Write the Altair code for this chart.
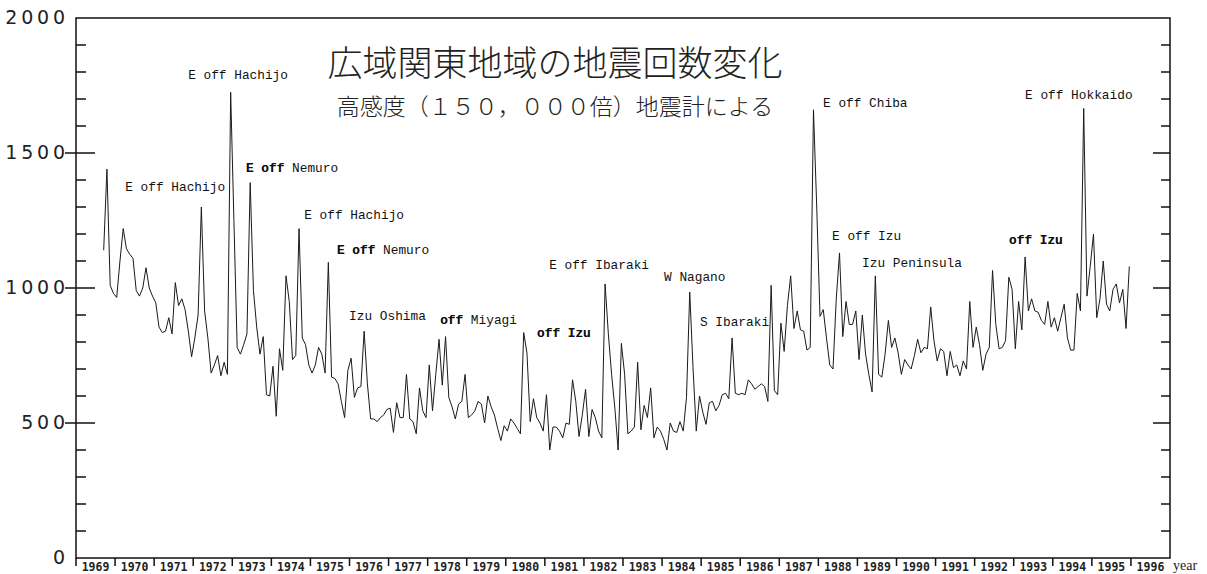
import altair as alt
import pandas as pd

# Monthly earthquake counts (Sep 1969 - Dec 1995)
counts_1969 = [1140, 1440, 1010, 980]  # Sep-Dec
counts_1970 = [965, 1100, 1220, 1145, 1125, 1110, 990, 970, 1000, 1075, 1000, 970]
counts_1971 = [945, 855, 835, 840, 890, 830, 1020, 935, 960, 920, 840, 745]
counts_1972 = [815, 900, 1300, 915, 815, 685, 715, 750, 675, 725, 680, 1725]
counts_1973 = [1250, 780, 755, 790, 830, 1390, 990, 855, 755, 820, 605, 600]
counts_1974 = [710, 525, 775, 695, 1045, 950, 735, 750, 1220, 815, 790, 715]
counts_1975 = [685, 715, 780, 755, 685, 1095, 670, 665, 645, 580, 520, 695]
counts_1976 = [740, 595, 630, 635, 840, 645, 515, 515, 505, 520, 530, 550]
counts_1977 = [555, 465, 575, 520, 520, 680, 515, 505, 460, 630, 545, 520]
counts_1978 = [715, 545, 680, 810, 640, 820, 595, 560, 515, 570, 580, 680]
counts_1979 = [520, 530, 545, 580, 570, 500, 600, 560, 530, 480, 435, 490]
counts_1980 = [470, 515, 500, 480, 460, 835, 760, 505, 590, 520, 500, 470]
counts_1981 = [605, 400, 485, 485, 470, 445, 500, 495, 660, 580, 450, 530]
counts_1982 = [625, 450, 550, 520, 470, 445, 1015, 830, 680, 555, 400, 795]
counts_1983 = [680, 460, 470, 485, 725, 475, 565, 520, 630, 445, 485, 470]
counts_1984 = [440, 400, 500, 470, 465, 505, 470, 595, 985, 705, 470, 600]
counts_1985 = [540, 495, 575, 580, 545, 565, 605, 610, 590, 815, 610, 605]
counts_1986 = [610, 605, 660, 645, 625, 635, 645, 635, 580, 1010, 620, 605]
counts_1987 = [870, 765, 935, 1045, 850, 915, 845, 840, 770, 780, 1660, 1300]
counts_1988 = [895, 920, 815, 715, 700, 960, 1130, 820, 950, 865, 865, 915]
counts_1989 = [735, 900, 755, 680, 615, 1045, 680, 670, 755, 880, 780, 815]
counts_1990 = [760, 680, 735, 715, 700, 750, 810, 760, 780, 775, 930, 805]
counts_1991 = [730, 775, 765, 675, 765, 705, 715, 675, 730, 700, 950, 780]
counts_1992 = [855, 790, 695, 755, 780, 1065, 865, 775, 780, 805, 1040, 995]
counts_1993 = [775, 950, 845, 1115, 915, 960, 915, 910, 880, 865, 950, 855]
counts_1994 = [890, 840, 890, 940, 815, 770, 770, 980, 915, 1665, 970, 1080]
counts_1995 = [1200, 890, 960, 1100, 940, 915, 995, 1015, 945, 995, 850, 1080]

yearly = {
    1969: counts_1969, 1970: counts_1970, 1971: counts_1971, 1972: counts_1972,
    1973: counts_1973, 1974: counts_1974, 1975: counts_1975, 1976: counts_1976,
    1977: counts_1977, 1978: counts_1978, 1979: counts_1979, 1980: counts_1980,
    1981: counts_1981, 1982: counts_1982, 1983: counts_1983, 1984: counts_1984,
    1985: counts_1985, 1986: counts_1986, 1987: counts_1987, 1988: counts_1988,
    1989: counts_1989, 1990: counts_1990, 1991: counts_1991, 1992: counts_1992,
    1993: counts_1993, 1994: counts_1994, 1995: counts_1995,
}

# Axis texts
year_labels = list(range(1969, 1997))
y_label_values = [0, 500, 1000, 1500, 2000]
y_minor_ticks = [100, 200, 300, 400, 600, 700, 800, 900, 1100, 1200, 1300, 1400,
                 1600, 1700, 1800, 1900]
y_major_ticks = [500, 1000, 1500]

title_text = "広域関東地域の地震回数変化"
subtitle_text = "高感度（１５０，０００倍）地震計による"

# Event annotations: label, left position (year), level (count)
ann_labels = ["E off Hachijo", "E off Hachijo", "E off Nemuro", "E off Hachijo",
              "E off Nemuro", "Izu Oshima", "off Miyagi", "off Izu",
              "E off Ibaraki", "W Nagano", "S Ibaraki", "E  off Chiba",
              "E off Izu", "Izu Peninsula", "off  Izu", "E off Hokkaido"]
ann_year = [1971.87, 1970.26, 1973.35, 1974.84, 1975.68, 1975.99, 1978.32, 1980.80,
            1981.11, 1984.05, 1984.97, 1988.12, 1988.35, 1989.12, 1992.88, 1993.29]
ann_level = [1789, 1374, 1444, 1270, 1141, 896, 881, 833,
             1085, 1041, 874, 1685, 1193, 1093, 1178, 1715]
# bold parts (overlaid on the same anchor)
bold_labels = ["E off", "E off", "off", "off Izu", "off  Izu"]
bold_year = [1973.35, 1975.68, 1978.32, 1980.80, 1992.88]
bold_level = [1444, 1141, 881, 833, 1178]

# ---------------------------------------------------------------------------
rows = []
for yr, vals in yearly.items():
    start = 8 if yr == 1969 else 0
    for i, v in enumerate(vals):
        rows.append({"t": yr + (start + i + 0.5) / 12.0, "v": v})
df = pd.DataFrame(rows)

W, H = 1094, 540
xs = alt.Scale(domain=[1969, 1997], nice=False, zero=False)
ys = alt.Scale(domain=[0, 2000], nice=False, zero=True)

line = alt.Chart(df).mark_line(color="#1a1a1a", strokeWidth=1).encode(
    x=alt.X("t:Q", scale=xs, axis=None),
    y=alt.Y("v:Q", scale=ys, axis=None),
)

minor_df = pd.DataFrame({"v": y_minor_ticks})
major_df = pd.DataFrame({"v": y_major_ticks})
tick_style = dict(color="#111", strokeWidth=1.5)

left_minor = alt.Chart(minor_df).mark_rule(**tick_style).encode(
    y=alt.Y("v:Q", scale=ys, axis=None), x=alt.value(0), x2=alt.value(10))
left_major = alt.Chart(major_df).mark_rule(**tick_style).encode(
    y=alt.Y("v:Q", scale=ys, axis=None), x=alt.value(-11), x2=alt.value(19))
right_minor = alt.Chart(minor_df).mark_rule(**tick_style).encode(
    y=alt.Y("v:Q", scale=ys, axis=None), x=alt.value(W - 9), x2=alt.value(W))
right_major = alt.Chart(major_df).mark_rule(**tick_style).encode(
    y=alt.Y("v:Q", scale=ys, axis=None), x=alt.value(W - 17), x2=alt.value(W))

ydf = pd.DataFrame({"v": y_label_values,
                    "label": ["\u2009".join(str(v)) for v in y_label_values]})
y_text = alt.Chart(ydf).mark_text(
    align="right", baseline="middle", font="DejaVu Sans", fontSize=19,
    color="#222").encode(
    y=alt.Y("v:Q", scale=ys, axis=None), x=alt.value(-11), text="label:N")

yr_df = pd.DataFrame({"year": year_labels,
                      "mid": [y + 0.5 for y in year_labels],
                      "label": [str(y) for y in year_labels]})
x_ticks = alt.Chart(yr_df).mark_rule(**tick_style).encode(
    x=alt.X("year:Q", scale=xs, axis=None), y=alt.value(H), y2=alt.value(H + 8))
x_text = alt.Chart(yr_df).mark_text(
    baseline="middle", font="DejaVu Sans Mono", fontSize=11.5, fontWeight="bold",
    color="#222").encode(
    x=alt.X("mid:Q", scale=xs, axis=None), y=alt.value(H + 9.5), text="label:N")

year_word = alt.Chart(pd.DataFrame({"w": ["year"]})).mark_text(
    align="left", baseline="middle", font="Liberation Serif", fontSize=14,
    color="#222").encode(x=alt.value(W + 3), y=alt.value(H + 8), text="w:N")

title = alt.Chart(pd.DataFrame({"s": [title_text]})).mark_text(
    font="Noto Sans CJK JP", fontSize=35, fontWeight=300, baseline="middle",
    color="#222").encode(x=alt.value(479), y=alt.value(47), text="s:N")
subtitle = alt.Chart(pd.DataFrame({"s": [subtitle_text]})).mark_text(
    font="Noto Sans CJK JP", fontSize=23, fontWeight=300, baseline="middle",
    color="#222").encode(x=alt.value(479), y=alt.value(90), text="s:N")

ann_df = pd.DataFrame({"t": ann_year, "v": ann_level, "label": ann_labels})
ann = alt.Chart(ann_df).mark_text(
    align="left", baseline="middle", font="Liberation Mono", fontSize=12.8,
    color="#111").encode(
    x=alt.X("t:Q", scale=xs, axis=None), y=alt.Y("v:Q", scale=ys, axis=None),
    text="label:N")
bold_df = pd.DataFrame({"t": bold_year, "v": bold_level, "label": bold_labels})
ann_bold = alt.Chart(bold_df).mark_text(
    align="left", baseline="middle", font="Liberation Mono", fontSize=12.8,
    fontWeight="bold", color="#111").encode(
    x=alt.X("t:Q", scale=xs, axis=None), y=alt.Y("v:Q", scale=ys, axis=None),
    text="label:N")

chart = alt.layer(
    line, left_minor, left_major, right_minor, right_major, y_text,
    x_ticks, x_text, year_word, title, subtitle, ann, ann_bold,
).properties(
    width=W, height=H,
    autosize=alt.AutoSizeParams(type="none"),
    padding={"left": 76, "top": 18, "right": 37, "bottom": 16},
    background="white",
).configure_view(stroke="#111", strokeWidth=1.5)

chart.save("out.html", embed_options={"renderer": "svg", "actions": False})
